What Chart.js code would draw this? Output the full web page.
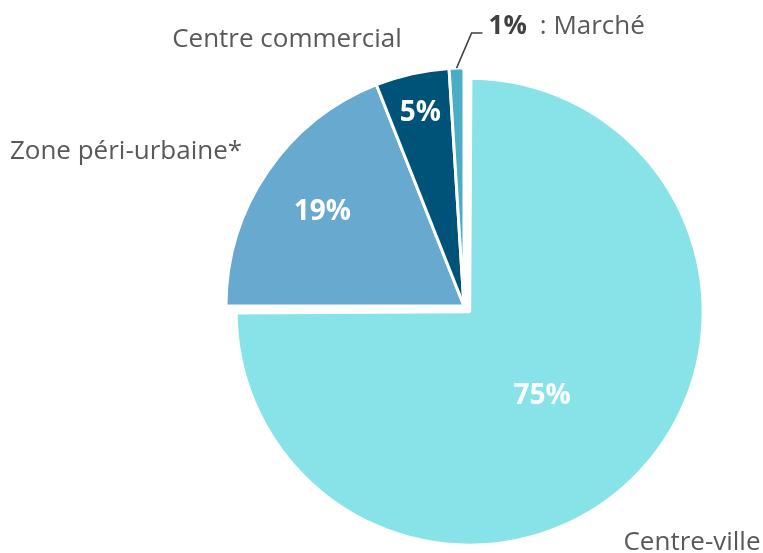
<!DOCTYPE html>
<html lang="fr">
  <head>
    <title>Lieux d'achat</title>
    <meta charset="utf-8">
    <script type="text/javascript" src="https://cdn.jsdelivr.net/npm/chart.js@4.4.1/dist/chart.umd.min.js"></script>
    <style>
      body { margin: 0; background: #ffffff; }
    </style>
  </head>
  <body>
    <canvas id="chart_pie" width="763" height="553"></canvas>

    <script language="javascript" type="text/javascript">

      // Values, clockwise from 12 o'clock
      const categories = ["Centre-ville", "Zone péri-urbaine*", "Centre commercial", "Marché"];
      const shares = [75, 19, 5, 1];
      const percentLabels = shares.map(v => v + "%");

      const sliceColours = ["#87e3e8", "#67a9cf", "#005378", "#4bacc6"];
      const sliceOffsets = [32, 0, 0, 0];

      // where the percentage sits inside a slice: fraction of the radius,
      // and a small turn (degrees) away from the slice's mid-angle
      const insideRadius = [0.47, 0.72, 0.84, null];
      const insideTurn = [3.7, 0, 0, 0];

      // category names drawn round the pie (centre x, baseline y)
      const namePos = [
        {x: 692, y: 550},
        {x: 126, y: 159},
        {x: 287, y: 47},
        null
      ];

      const FONT = "'Open Sans', 'Noto Sans', sans-serif";
      const GREY = "#595959";

      // Chart.js grows an exploded slice by offset/4, Excel keeps it; undo that here
      const explodeFix = {
        id: 'explodeFix',
        afterDatasetUpdate(chart, args) {
          chart.getDatasetMeta(args.index).data.forEach(arc => {
            const off = (arc.options && arc.options.offset || 0) / 4;
            if (!off) return;
            const fix = 1 - Math.sin(Math.min(Math.PI, arc.circumference || 0));
            arc.outerRadius -= off * fix + 4.5;
          });
        }
      };

      const pieLabels = {
        id: 'pieLabels',
        afterDatasetsDraw(chart) {
          const ctx = chart.ctx;
          const arcs = chart.getDatasetMeta(0).data;
          ctx.save();
          arcs.forEach((arc, i) => {
            const p = arc.getProps(['x', 'y', 'startAngle', 'endAngle', 'outerRadius', 'circumference'], true);
            const mid = (p.startAngle + p.endAngle) / 2;
            const shift = (arc.options.offset || 0) / 4;
            const fix = 1 - Math.sin(Math.min(Math.PI, p.circumference || 0));
            const cx = p.x + Math.cos(mid) * shift;
            const cy = p.y + Math.sin(mid) * shift;
            const r = p.outerRadius + shift * fix;

            // percentage inside the slice
            if (insideRadius[i] !== null) {
              const size = 28;
              const a = mid + insideTurn[i] * Math.PI / 180;
              ctx.font = "bold " + size + "px " + FONT;
              ctx.fillStyle = "#ffffff";
              ctx.textAlign = "center";
              ctx.textBaseline = "alphabetic";
              ctx.fillText(percentLabels[i],
                cx + Math.cos(a) * r * insideRadius[i],
                cy + Math.sin(a) * r * insideRadius[i] + size * 0.357);
            }

            // category name
            ctx.font = "26px " + FONT;
            ctx.fillStyle = GREY;
            ctx.textBaseline = "alphabetic";
            if (namePos[i]) {
              ctx.textAlign = "center";
              ctx.fillText(categories[i], namePos[i].x, namePos[i].y);
            } else {
              // small slice: leader line, then "1% : Marché"
              const sx = cx + Math.cos(mid) * r;
              const sy = cy + Math.sin(mid) * r;
              const ex = sx + 15, ey = sy - 35;
              ctx.strokeStyle = "#404040";
              ctx.lineWidth = 1.5;
              ctx.beginPath();
              ctx.moveTo(sx, sy);
              ctx.lineTo(ex, ey);
              ctx.lineTo(ex + 11, ey);
              ctx.stroke();

              const tx = ex + 17, ty = ey + 1;
              ctx.textAlign = "left";
              ctx.font = "bold 26px " + FONT;
              ctx.fillStyle = "#404040";
              ctx.fillText(percentLabels[i], tx, ty);
              const w = ctx.measureText(percentLabels[i]).width;
              ctx.font = "26px " + FONT;
              ctx.fillStyle = GREY;
              ctx.fillText(": " + categories[i], tx + w + 13, ty);
            }
          });
          ctx.restore();
        }
      };

      const chart = new Chart("chart_pie", {
        type: "pie",
        data: {
          labels: categories,
          datasets: [{
            data: shares,
            backgroundColor: sliceColours,
            borderColor: "#ffffff",
            borderWidth: 3,
            offset: sliceOffsets,
            radius: 238
          }]
        },
        options: {
          responsive: false,
          animation: false,
          events: [],
          layout: {padding: {left: 165, right: 0, top: 59, bottom: 0}},
          plugins: {
            legend: {display: false},
            tooltip: {enabled: false}
          }
        },
        plugins: [explodeFix, pieLabels]
      });

    </script>
  </body>
</html>
